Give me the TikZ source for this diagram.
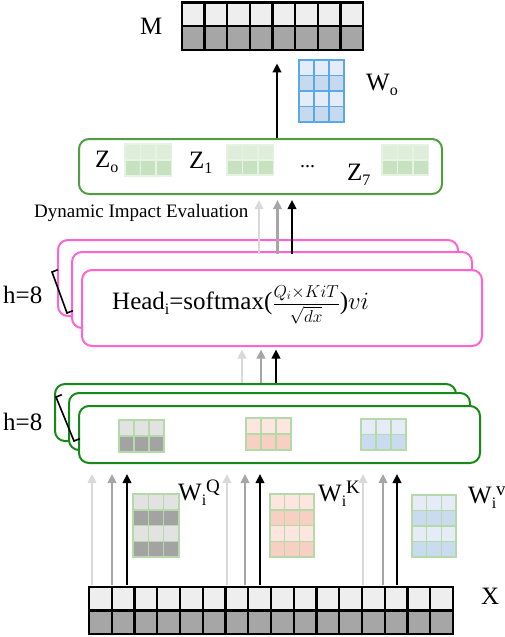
\documentclass[tikz,border=0pt]{standalone}
\usepackage{fontspec}
\setmainfont{Liberation Serif}
\usetikzlibrary{arrows.meta}
\definecolor{mlight}{HTML}{EEEEEE}
\definecolor{mdark}{HTML}{A6A6A6}
\definecolor{wblue}{HTML}{5BA8E6}
\definecolor{blight}{HTML}{E3ECF8}
\definecolor{bdark}{HTML}{C6D9EF}
\definecolor{zg1}{HTML}{DFEEDA}
\definecolor{zg2}{HTML}{C8E1C0}
\definecolor{zline}{HTML}{E6F2E2}
\definecolor{sline}{HTML}{B5D9A9}
\definecolor{qlight}{HTML}{E2E2E2}
\definecolor{qdark}{HTML}{A3A3A3}
\definecolor{klight}{HTML}{FDE6DF}
\definecolor{kdark}{HTML}{F8CFC3}
\definecolor{vlight}{HTML}{E5ECF8}
\definecolor{vdark}{HTML}{C8DBEF}
\definecolor{pinkc}{HTML}{FF63CF}
\definecolor{greenc}{HTML}{168A16}
\definecolor{zgreen}{HTML}{4F9E3F}
\definecolor{arrlight}{HTML}{D9D9D9}
\definecolor{arrmid}{HTML}{A6A6A6}
% name, x0, y0, cell w, cell h, ncols, nrows, row colours, line style
\newcommand\mtx[9]{%
  \node[inner sep=0pt, minimum width={#6*#4}, minimum height={#7*#5}, anchor=north west] (#1) at (#2,#3) {};
  \foreach \cc [count=\r from 0] in {#8}
    \fill[\cc] (#2,{#3+\r*#5}) rectangle ({#2+#6*#4},{#3+(\r+1)*#5});
  \foreach \k in {0,...,#6}
    \draw[#9, line cap=rect] ({#2+\k*#4},#3) -- ({#2+\k*#4},{#3+#7*#5});
  \foreach \k in {0,...,#7}
    \draw[#9, line cap=rect] (#2,{#3+\k*#5}) -- ({#2+#6*#4},{#3+\k*#5});
}
\newcommand\lo[1]{\raisebox{-5pt}{\fontsize{16}{16}\selectfont #1}}
\newcommand\hi[1]{\raisebox{8pt}{\fontsize{19}{19}\selectfont #1}}
\begin{document}
\begin{tikzpicture}[x=1pt,y=-1pt,
  every node/.style={inner sep=0pt, font=\fontsize{25}{30}\selectfont},
  arr/.style={-{Triangle[length=9pt,width=8.5pt]}, line width=2.4pt},
  al/.style={arr, draw=arrlight},
  am/.style={arr, draw=arrmid},
  ak/.style={arr, draw=black},
  pinkbox/.style={draw=pinkc, line width=2pt, rounded corners=10pt, fill=white, minimum width=400pt, minimum height=76pt, anchor=north west},
  greenbox/.style={draw=greenc, line width=2pt, rounded corners=10pt, fill=white, minimum width=401pt, minimum height=57pt, anchor=north west},
  zboxs/.style={draw=zgreen, line width=2pt, rounded corners=10pt, fill=white, minimum width=363pt, minimum height=55pt, anchor=north west},
  lbl/.style={anchor=base west},
  brk/.style={line width=1.6pt, black},
]
\useasboundingbox (0,0) rectangle (505,637);

% ---- top: M and W_o
\mtx{Mm}{182}{2.5}{22.625}{23.75}{8}{2}{mlight,mdark}{black, line width=2.3pt}
\node[lbl] (Mlab) at (140,34) {M};
\mtx{Wo}{299}{60}{15}{15.5}{3}{4}{blight,bdark,blight,bdark}{wblue, line width=1.5pt}
\node[lbl] (Wolab) at (366,90) {W\lo{o}};

% ---- Z box
\node[zboxs] (zbox) at (78,138) {};
\mtx{Z0}{125}{144}{15.5}{16}{3}{2}{zg1,zg2}{zline, line width=1.3pt}
\mtx{Z1}{227}{145}{15.5}{15}{3}{2}{zg1,zg2}{zline, line width=1.3pt}
\mtx{Z7}{382}{145}{15.5}{15}{3}{2}{zg1,zg2}{zline, line width=1.3pt}
\node[lbl] (z0lab) at (95,167) {Z\lo{o}};
\node[lbl] (z1lab) at (189,168) {Z\lo{1}};
\node[lbl] (dots) at (300,167) {\fontsize{20}{20}\selectfont ...};
\node[lbl] (z7lab) at (347,180) {Z\lo{7}};

\coordinate (xM) at (277,0);
\draw[ak, shorten >=13pt] (zbox.north -| xM) -- (Mm.south -| xM);

\node[lbl, font=\fontsize{19}{22}\selectfont] (die) at (34,217) {Dynamic Impact Evaluation};

% ---- pink heads
\node[pinkbox] (ph1) at (57,239) {};
\node[pinkbox] (ph2) at (71,251) {};
\node[pinkbox] (ph3) at (81,269) {};
\coordinate (xp1) at (259,0);
\coordinate (xp2) at (277.5,0);
\coordinate (xp3) at (292,0);
\draw[al, shorten >=5pt, shorten <=-3pt] (ph2.north -| xp1) -- (zbox.south -| xp1);
\draw[am, shorten >=5pt, shorten <=-3pt] (ph2.north -| xp2) -- (zbox.south -| xp2);
\draw[ak, shorten >=5pt, shorten <=-3pt] (ph2.north -| xp3) -- (zbox.south -| xp3);
\coordinate (pb1) at (52,272);
\coordinate (pb2) at (67,313);
\draw[brk] ([shift={(5.8,-2.3)}]pb1) -- (pb1) -- (pb2) -- ([shift={(5.8,-2.3)}]pb2);
\node[lbl] (hp) at (3,303) {h=8};
\node[lbl] (head) at (112,309) {Head\lo{i}=softmax({\fontsize{18}{20}\selectfont$\displaystyle\frac{Q_i{\times}KiT}{\sqrt{dx}}$})$vi$};

% ---- green heads
\node[greenbox] (gb1) at (54,383) {};
\node[greenbox] (gb2) at (68,392) {};
\node[greenbox] (gb3) at (78,405) {};
\coordinate (xg1) at (242,0);
\coordinate (xg2) at (261,0);
\coordinate (xg3) at (276,0);
\draw[al, shorten >=2.5pt] (gb1.north -| xg1) -- (ph3.south -| xg1);
\draw[am, shorten >=2.5pt] (gb1.north -| xg2) -- (ph3.south -| xg2);
\draw[ak, shorten >=2.5pt] (gb1.north -| xg3) -- (ph3.south -| xg3);
\mtx{Qm}{119}{420}{15}{16}{3}{2}{qlight,qdark}{sline, line width=1.5pt}
\mtx{Km}{246}{418}{15}{16}{3}{2}{klight,kdark}{sline, line width=1.5pt}
\mtx{Vm}{361}{419}{15}{15.5}{3}{2}{vlight,vdark}{sline, line width=1.5pt}
\coordinate (gk1) at (56,397);
\coordinate (gk2) at (74,441);
\draw[brk] ([shift={(5.8,-2.3)}]gk1) -- (gk1) -- (gk2) -- ([shift={(5.8,-2.3)}]gk2);
\node[lbl] (hg) at (3,430) {h=8};

% ---- X and projections
\mtx{Xm}{89}{587}{22.75}{23.5}{16}{2}{mlight,mdark}{black, line width=2.3pt}
\node[lbl] (Xlab) at (481,604) {X};
\foreach \xa/\xb/\xc [count=\g] in {92/112/127, 227/245/260, 363/383/397}{
  \coordinate (bx\g a) at (\xa,0);
  \coordinate (bx\g b) at (\xb,0);
  \coordinate (bx\g c) at (\xc,0);
  \draw[al, shorten >=10pt, shorten <=2pt] (Xm.north -| bx\g a) -- (gb3.south -| bx\g a);
  \draw[am, shorten >=10pt, shorten <=2pt] (Xm.north -| bx\g b) -- (gb3.south -| bx\g b);
  \draw[ak, shorten >=10pt, shorten <=2pt] (Xm.north -| bx\g c) -- (gb3.south -| bx\g c);
}
\mtx{WQ}{133}{494}{15.3}{15.75}{3}{4}{qlight,qdark,qlight,qdark}{sline, line width=1.5pt}
\mtx{WK}{270}{494}{14.7}{15.75}{3}{4}{klight,kdark,klight,kdark}{sline, line width=1.5pt}
\mtx{WV}{412}{495}{14.7}{15.5}{3}{4}{vlight,vdark,vlight,vdark}{sline, line width=1.5pt}
\node[lbl] (wqlab) at (178,500) {W\lo{i}\hi{Q}};
\node[lbl] (wklab) at (318,501) {W\lo{i}\hi{K}};
\node[lbl] (wvlab) at (468,503) {W\lo{i}\hi{v}};
\end{tikzpicture}
\end{document}
